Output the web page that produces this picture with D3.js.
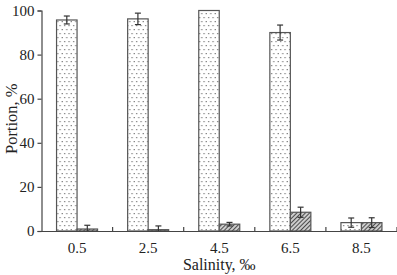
<!DOCTYPE html>
<html><head><meta charset="utf-8">
<script src="https://cdn.jsdelivr.net/npm/d3@7"></script>
<style>body{margin:0;background:#fff}svg{display:block}</style>
</head><body>
<svg id="c" width="397" height="275"></svg>
<script>
const categories = ["0.5","2.5","4.5","6.5","8.5"];
const dottedValues = [95.7, 96.2, 100, 90, 3.8];
const dottedErrors = [1.8, 2.6, 0, 3.4, 2.1];
const hatchedValues = [0.9, 0.6, 3.1, 8.5, 3.8];
const hatchedErrors = [1.7, 1.7, 0.8, 2.3, 2.2];
const yTicks = [0,20,40,60,80,100];

const svg = d3.select("#c");
const m = {l:41.5, r:397, t:10.5, b:231};
const x = d3.scaleBand().domain(categories).range([m.l, m.r]).padding(0);
const y = d3.scaleLinear().domain([0,100]).range([m.b, m.t]);
const bw = 20.5;

const defs = svg.append("defs");
const pd = defs.append("pattern").attr("id","dots").attr("patternUnits","userSpaceOnUse")
  .attr("width",4.5).attr("height",8);
pd.append("rect").attr("width",4.5).attr("height",8).attr("fill","#fff");
pd.append("rect").attr("x",1).attr("y",1).attr("width",1.2).attr("height",1.2).attr("fill","#777");
pd.append("rect").attr("x",3.2).attr("y",5).attr("width",1.2).attr("height",1.2).attr("fill","#777");
const ph = defs.append("pattern").attr("id","hatch").attr("patternUnits","userSpaceOnUse")
  .attr("width",3).attr("height",3).attr("patternTransform","rotate(45)");
ph.append("rect").attr("width",3).attr("height",3).attr("fill","#ccc");
ph.append("line").attr("x1",0).attr("y1",0).attr("x2",0).attr("y2",3).attr("stroke","#333").attr("stroke-width",1.7);

const font = "'Liberation Serif','Times New Roman',serif";

function drawSeries(vals, errs, fill, offset){
  const g = svg.append("g");
  g.selectAll("rect").data(vals).join("rect")
    .attr("x",(d,i)=>x(categories[i])+x.bandwidth()/2+offset)
    .attr("y",d=>y(d)).attr("width",bw).attr("height",d=>y(0)-y(d))
    .attr("fill",fill).attr("stroke","#555").attr("stroke-width",1.2);
  const eg = g.selectAll("g.err").data(vals.map((v,i)=>({v,e:errs[i],i}))).join("g").attr("class","err")
    .filter(d=>d.e>0);
  const cx = d=>x(categories[d.i])+x.bandwidth()/2+offset+bw/2;
  eg.append("line").attr("x1",cx).attr("x2",cx)
    .attr("y1",d=>y(d.v+d.e)).attr("y2",d=>y(Math.max(0,d.v-d.e)))
    .attr("stroke","#333").attr("stroke-width",1.2);
  eg.append("line").attr("x1",d=>cx(d)-3).attr("x2",d=>cx(d)+3)
    .attr("y1",d=>y(d.v+d.e)).attr("y2",d=>y(d.v+d.e)).attr("stroke","#333").attr("stroke-width",1.2);
  eg.filter(d=>d.v-d.e>0).append("line").attr("x1",d=>cx(d)-3).attr("x2",d=>cx(d)+3)
    .attr("y1",d=>y(d.v-d.e)).attr("y2",d=>y(d.v-d.e)).attr("stroke","#333").attr("stroke-width",1.2);
}
drawSeries(dottedValues, dottedErrors, "url(#dots)", -bw);
drawSeries(hatchedValues, hatchedErrors, "url(#hatch)", 0);

// Y axis
const ya = svg.append("g").attr("transform",`translate(${m.l},0)`)
  .call(d3.axisLeft(y).tickValues(yTicks).tickSize(4).tickPadding(3));
ya.select(".domain").attr("stroke","#444").attr("stroke-width",1.2);
ya.selectAll(".tick line").attr("stroke","#444").attr("stroke-width",1.2);
ya.selectAll("text").attr("font-family",font).attr("font-size",15).attr("fill","#222");

// X axis
const xa = svg.append("g").attr("transform",`translate(0,${m.b})`)
  .call(d3.axisBottom(x).tickSize(0).tickPadding(11));
xa.select(".domain").attr("stroke","#444").attr("stroke-width",1.2);
xa.selectAll("text").attr("font-family",font).attr("font-size",15).attr("fill","#222");
// boundary ticks pointing up
svg.append("g").selectAll("line").data(categories.slice(1).concat(["end"])).join("line")
  .attr("x1",(d,i)=>x(categories[i])+x.bandwidth()).attr("x2",(d,i)=>x(categories[i])+x.bandwidth())
  .attr("y1",m.b).attr("y2",m.b-4).attr("stroke","#444").attr("stroke-width",1.2);

svg.append("text").attr("x",(m.l+m.r)/2).attr("y",270).attr("text-anchor","middle")
  .attr("font-family",font).attr("font-size",16).attr("fill","#222").text("Salinity, ‰");
svg.append("text").attr("transform",`translate(17,${(m.t+m.b)/2-2}) rotate(-90)`).attr("text-anchor","middle")
  .attr("font-family",font).attr("font-size",16.5).attr("fill","#222").text("Portion, %");
</script>
</body></html>
